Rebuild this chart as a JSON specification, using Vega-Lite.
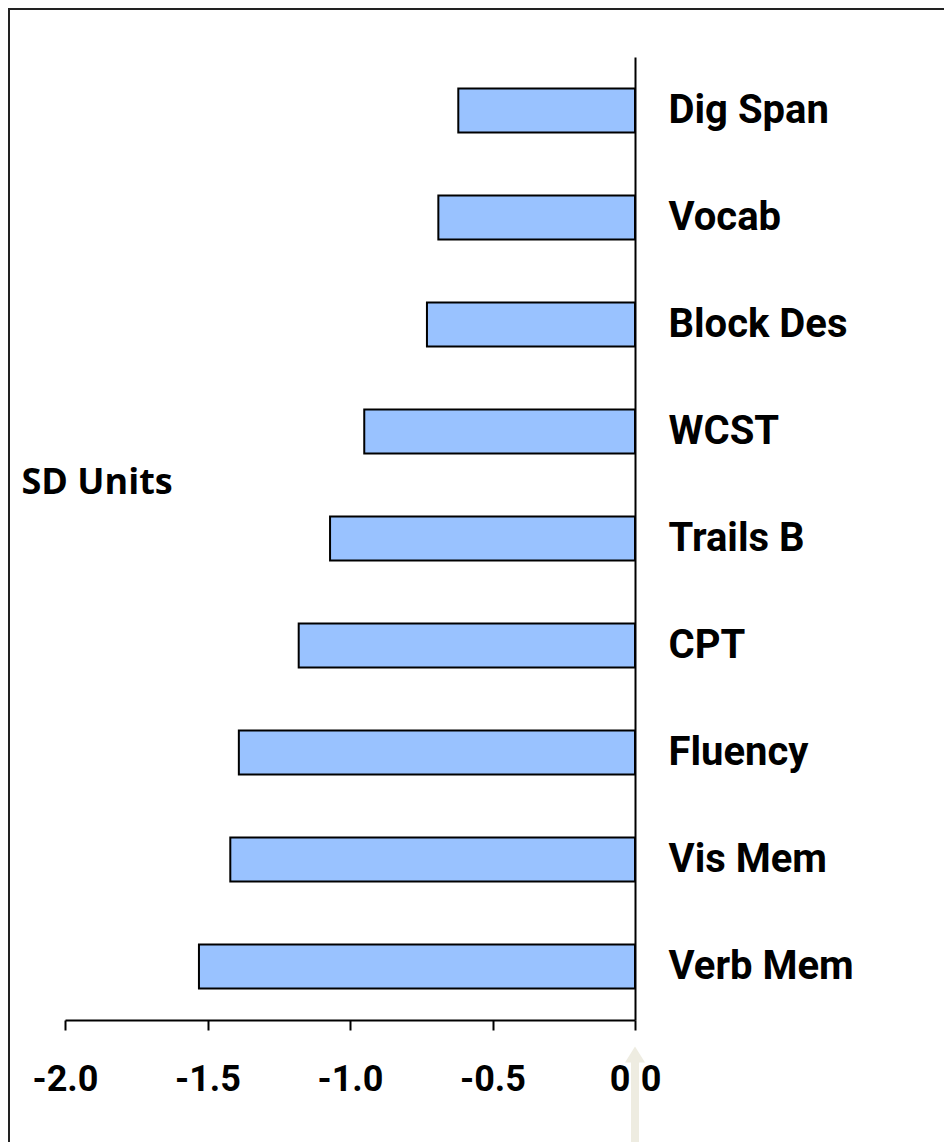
{
  "$schema": "https://vega.github.io/schema/vega-lite/v6.json",
  "width": 935,
  "height": 1133,
  "autosize": {"type": "none"},
  "padding": {"left": 9, "top": 9, "right": 0, "bottom": 0},
  "background": "white",
  "view": {"stroke": "#222222", "strokeWidth": 2, "strokeDash": [935, 2068, 1133]},
  "data": {
    "values": [
      {"test": "Dig Span", "sd": -0.62},
      {"test": "Vocab", "sd": -0.69},
      {"test": "Block Des", "sd": -0.73},
      {"test": "WCST", "sd": -0.95},
      {"test": "Trails B", "sd": -1.07},
      {"test": "CPT", "sd": -1.18},
      {"test": "Fluency", "sd": -1.39},
      {"test": "Vis Mem", "sd": -1.42},
      {"test": "Verb Mem", "sd": -1.53}
    ]
  },
  "layer": [
    {
      "mark": {"type": "bar", "fill": "#99c2ff", "stroke": "black", "strokeWidth": 2},
      "encoding": {
        "y": {
          "field": "test",
          "type": "nominal",
          "sort": null,
          "scale": {"type": "band", "range": [48, 1011], "paddingInner": 0.589, "paddingOuter": 0.2945},
          "axis": {
            "orient": "right",
            "offset": -309,
            "domain": true,
            "domainColor": "black",
            "domainWidth": 2,
            "ticks": false,
            "tickSize": 0,
            "grid": false,
            "labelPadding": 33,
            "labelFont": "Roboto",
            "labelFontWeight": "bold",
            "labelFontSize": 40,
            "labelColor": "black",
            "labelAlign": "left",
            "labelBaseline": "middle",
            "labelLimit": 500,
            "title": "SD Units",
            "titleFont": "Open Sans",
            "titleFontWeight": "bold",
            "titleFontSize": 36,
            "titleColor": "black",
            "titleAngle": 0,
            "titleAlign": "left",
            "titleBaseline": "alphabetic",
            "titleX": -614,
            "titleY": 484,
            "zindex": 0
          }
        },
        "x": {
          "field": "sd",
          "type": "quantitative",
          "scale": {"domain": [-2, 0], "range": [56, 626], "nice": false, "zero": false},
          "axis": {
            "orient": "bottom",
            "offset": -122,
            "values": [-2, -1.5, -1, -0.5, 0],
            "labelExpr": "(datum.value < 0 ? '-' : '') + format(abs(datum.value), '.1f')",
            "domain": true,
            "domainColor": "black",
            "domainWidth": 2,
            "ticks": true,
            "tickColor": "black",
            "tickWidth": 2,
            "tickSize": 10,
            "grid": false,
            "labelFont": "Roboto",
            "labelFontWeight": "bold",
            "labelFontSize": 36,
            "labelColor": "black",
            "labelPadding": 32,
            "labelFlush": false,
            "labelOverlap": false,
            "title": null,
            "zindex": 0
          }
        }
      }
    },
    {
      "data": {"values": [{"test": "Verb Mem", "sd": 0}]},
      "mark": {
        "type": "point",
        "shape": "M0,8L1,9.6L0.4,9.6L0.4,18L-0.4,18L-0.4,9.6L-1,9.6Z",
        "filled": true,
        "fill": "#eeece1",
        "strokeWidth": 0,
        "size": 400,
        "opacity": 1
      },
      "encoding": {
        "y": {"field": "test", "type": "nominal", "sort": null},
        "x": {"field": "sd", "type": "quantitative"}
      }
    }
  ]
}
